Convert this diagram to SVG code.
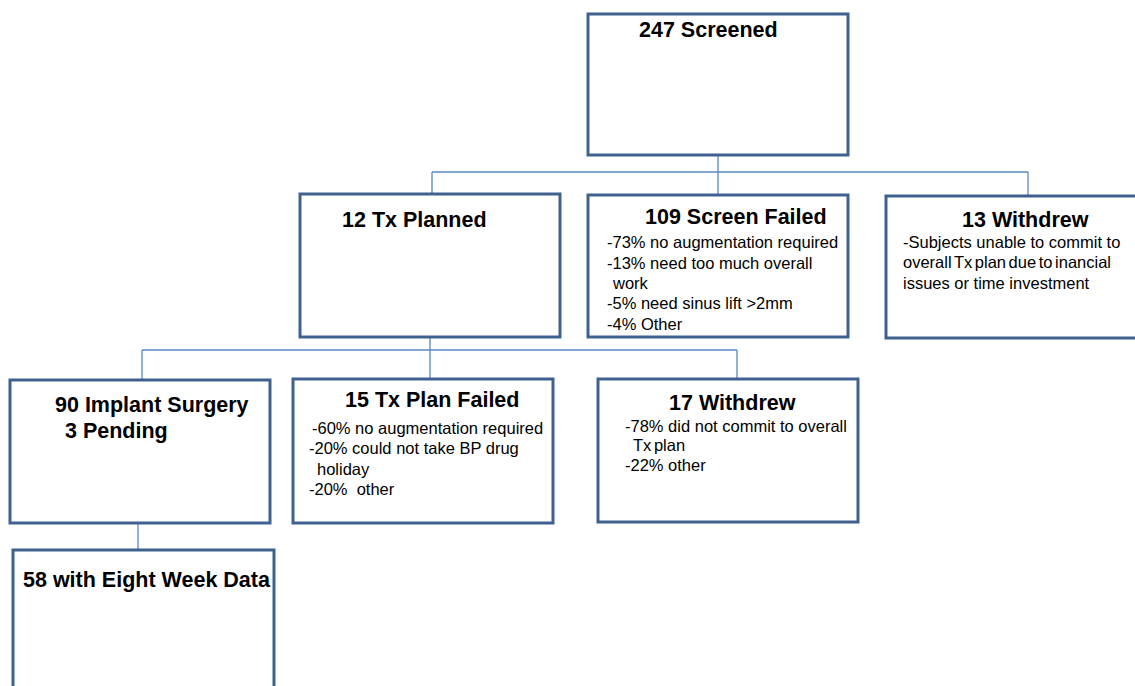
<svg xmlns="http://www.w3.org/2000/svg" width="1135" height="686" viewBox="0 0 1135 686">
<style>
.box{fill:#fff;stroke:#3f6190;stroke-width:3}
.con{fill:none;stroke:#5a88c4;stroke-width:1.3}
.t{font-family:"Liberation Sans",Arial,sans-serif;font-weight:bold;font-size:21.5px;fill:#000}
.b{font-family:"Liberation Sans",Arial,sans-serif;font-size:16.5px;fill:#000}
</style>
<rect width="1135" height="686" fill="#fff"/>
<g id="connectors">
<path class="con" d="M718 155V195M432 172H1028M432 172V194M1028 172V196"/>
<path class="con" d="M430 337V379M142 350H737M142 350V380M737 350V379"/>
<path class="con" d="M138 523V550"/>
</g>
<g id="n1"><rect class="box" x="588" y="14" width="260" height="141"/><text class="t" x="639" y="37">247 Screened</text></g>
<g id="n2"><rect class="box" x="300" y="194" width="260" height="143"/><text class="t" x="342" y="227">12 Tx Planned</text></g>
<g id="n3"><rect class="box" x="588" y="195" width="260" height="142"/><text class="t" x="645" y="224">109 Screen Failed</text>
<text class="b"><tspan x="607" y="248">-73% no augmentation required</tspan><tspan x="607" y="269">-13% need too much overall</tspan><tspan x="613" y="289">work</tspan><tspan x="607" y="309">-5% need sinus lift &gt;2mm</tspan><tspan x="607" y="330">-4% Other</tspan></text></g>
<g id="n4"><rect class="box" x="886" y="196" width="260" height="142"/><text class="t" x="962" y="227">13 Withdrew</text>
<text class="b"><tspan x="903" y="248">-Subjects unable to commit to</tspan><tspan x="903" y="268" word-spacing="-2">overall Tx plan due to inancial</tspan><tspan x="903" y="289">issues or time investment</tspan></text></g>
<g id="n5"><rect class="box" x="10" y="380" width="260" height="143"/><text class="t"><tspan x="55" y="412">90 Implant Surgery</tspan><tspan x="65" y="438">3 Pending</tspan></text></g>
<g id="n6"><rect class="box" x="293" y="379" width="260" height="144"/><text class="t" x="345" y="407">15 Tx Plan Failed</text>
<text class="b"><tspan x="312" y="434">-60% no augmentation required</tspan><tspan x="309" y="454">-20% could not take BP drug</tspan><tspan x="317" y="475">holiday</tspan><tspan x="309" y="495" xml:space="preserve">-20%  other</tspan></text></g>
<g id="n7"><rect class="box" x="598" y="379" width="260" height="143"/><text class="t" x="669" y="410">17 Withdrew</text>
<text class="b"><tspan x="625" y="432">-78% did not commit to overall</tspan><tspan x="633" y="451" word-spacing="-2">Tx plan</tspan><tspan x="625" y="471">-22% other</tspan></text></g>
<g id="n8"><rect class="box" x="13" y="550" width="261" height="160"/><text class="t" x="23" y="587">58 with Eight Week Data</text></g>
</svg>
